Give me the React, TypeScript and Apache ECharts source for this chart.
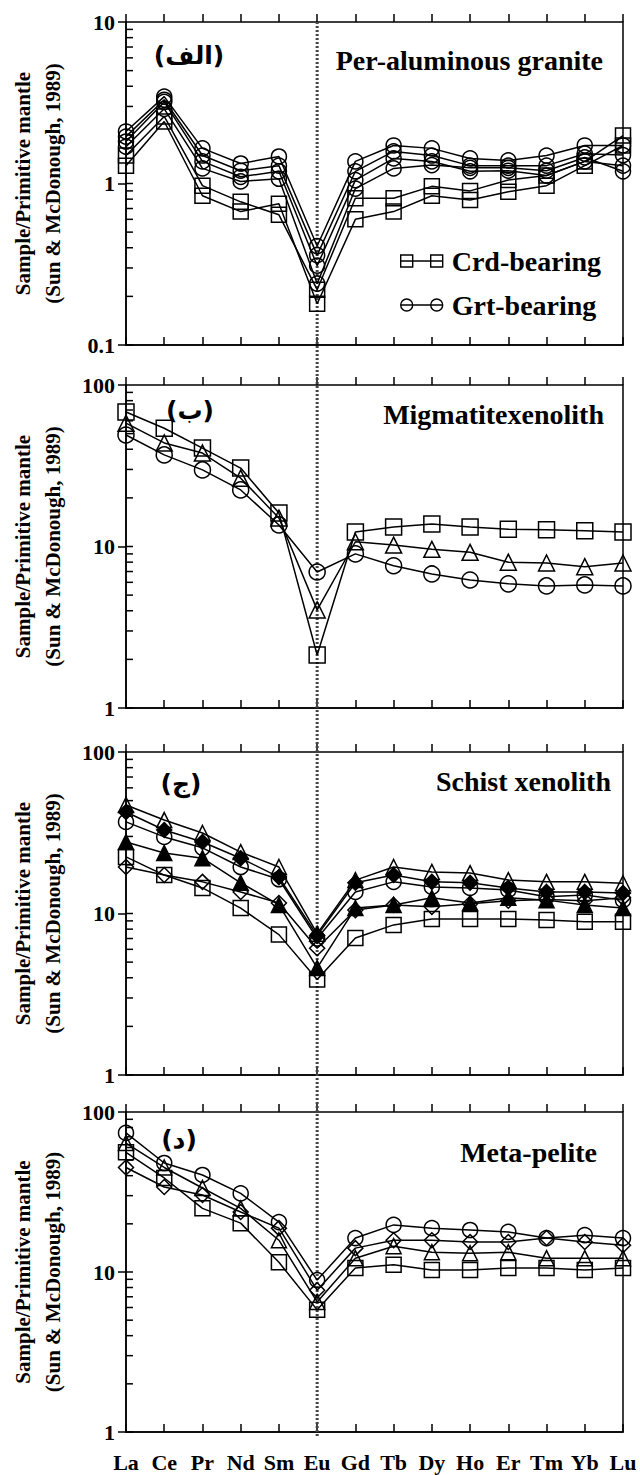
import React, { useEffect, useRef } from 'react';
import * as echarts from 'echarts';

const CATS = ['La', 'Ce', 'Pr', 'Nd', 'Sm', 'Eu', 'Gd', 'Tb', 'Dy', 'Ho', 'Er', 'Tm', 'Yb', 'Lu'];

// Panel 1 – Per-aluminous granite
const P1_CRD_A = [1.49, 2.6, 0.97, 0.77, 0.64, 0.22, 0.81, 0.81, 0.96, 0.9, 1.05, 1.12, 1.37, 1.98];
const P1_CRD_B = [1.29, 2.42, 0.84, 0.67, 0.75, 0.18, 0.6, 0.67, 0.84, 0.79, 0.89, 0.97, 1.29, 1.72];
const P1_GRT_A = [2.1, 3.45, 1.65, 1.33, 1.47, 0.41, 1.37, 1.72, 1.65, 1.43, 1.39, 1.49, 1.72, 1.72];
const P1_GRT_B = [1.95, 3.3, 1.49, 1.2, 1.29, 0.36, 1.19, 1.58, 1.49, 1.29, 1.29, 1.29, 1.53, 1.5];
const P1_GRT_C = [1.82, 3.2, 1.37, 1.1, 1.19, 0.31, 1.05, 1.43, 1.37, 1.19, 1.2, 1.12, 1.37, 1.29];
const P1_GRT_D = [1.69, 2.9, 1.24, 1.03, 1.07, 0.24, 0.93, 1.24, 1.3, 1.25, 1.25, 1.2, 1.45, 1.19];

// Panel 2 – Migmatite xenolith
const P2_SQUARE = [68, 54, 40.7, 30.6, 16.1, 2.13, 12.3, 13.2, 13.8, 13.2, 12.8, 12.7, 12.5, 12.3];
const P2_TRIANGLE = [58, 43.8, 37.9, 26.5, 15, 4.05, 10.7, 10.2, 9.6, 9.2, 8.0, 7.9, 7.5, 7.9];
const P2_CIRCLE = [49, 36.9, 29.8, 22.4, 13.6, 6.95, 9.0, 7.6, 6.76, 6.2, 5.87, 5.7, 5.78, 5.7];

// Panel 3 – Schist xenolith
const P3_TRIANGLE = [47, 37.9, 31.5, 24, 19.4, 7.5, 16.1, 19.4, 18.1, 17.8, 16.1, 15.7, 15.7, 15.4];
const P3_DIAMOND_F = [42.5, 32.9, 27.7, 22, 16.8, 7.3, 15.5, 17.3, 15.7, 15.5, 14.4, 13.6, 13.6, 13.4];
const P3_CIRCLE = [36.9, 29.8, 25.5, 19.4, 16.3, 7.0, 13.6, 15.7, 14.6, 14.4, 14.0, 12.7, 13.0, 12.1];
const P3_TRIANGLE_F = [27.7, 23.7, 22, 15.5, 11.3, 4.6, 10.8, 11.3, 12.5, 11.6, 12.5, 12.1, 11.3, 10.8];
const P3_DIAMOND = [19.4, 17.3, 15.7, 13.6, 11.6, 6.1, 10.5, 11.3, 11.0, 11.5, 12.0, 12.2, 12.0, 12.5];
const P3_SQUARE = [22.4, 17.3, 14.4, 10.8, 7.4, 3.9, 7.05, 8.5, 9.25, 9.25, 9.25, 9.1, 8.9, 8.9];

// Panel 4 – Meta-pelite
const P4_CIRCLE = [74, 48, 40.4, 31, 20.5, 8.9, 16.3, 19.7, 18.8, 18.3, 17.8, 16.3, 17, 16.3];
const P4_DIAMOND = [45, 34, 30.3, 23.7, 18.8, 7.7, 14.1, 15.8, 15.8, 15.4, 15.4, 16.3, 15.4, 14.7];
const P4_TRIANGLE = [64, 45, 33.5, 25, 15.8, 6.5, 12.2, 14.5, 13.3, 13.1, 13.3, 12.2, 12.2, 12.2];
const P4_SQUARE = [56, 38.7, 25, 20.2, 11.5, 5.8, 10.6, 11.1, 10.3, 10.3, 10.6, 10.6, 10.3, 10.6];

const PANEL_TITLES = ['Per-aluminous granite', 'Migmatitexenolith', 'Schist xenolith', 'Meta-pelite'];
const PANEL_TAGS = ['(الف)', '(ب)', '(ج)', '(د)'];
const Y_RANGES = [[0.1, 10], [1, 100], [1, 100], [1, 100]];
const Y_TITLE = 'Sample/Primitive mantle\n(Sun & McDonough, 1989)';

const SERIF = 'Liberation Serif';

const GRIDS = [
  { top: 22, height: 323 },
  { top: 385, height: 323 },
  { top: 752, height: 323 },
  { top: 1112, height: 320 },
];
const GRID_LEFT = 117;
const GRID_RIGHT = 17;

const TITLE_POS = [
  { x: 603, y: 60 },
  { x: 604, y: 414 },
  { x: 611, y: 781 },
  { x: 597, y: 1152 },
];
const TAG_POS = [
  { x: 189, y: 55 },
  { x: 190, y: 410 },
  { x: 181, y: 783 },
  { x: 179, y: 1139 },
];

function minorValues(min: number, max: number) {
  const out: number[] = [];
  for (let d = min; d < max * 0.999; d *= 10) {
    for (let k = 1; k <= 9; k++) out.push(+(d * k).toPrecision(3));
  }
  return out;
}

function lineSeries(name: string, data: number[], symbol: string, filled: boolean, p: number, size = 15) {
  return {
    type: 'line',
    name,
    data,
    xAxisIndex: p * 2,
    yAxisIndex: p,
    symbol,
    symbolSize: size,
    showAllSymbol: true,
    lineStyle: { color: '#000', width: 1.5 },
    itemStyle: { color: filled ? '#000' : 'rgba(255,255,255,0)', borderColor: '#000', borderWidth: 1.5 },
    emphasis: { disabled: true },
    z: 3,
  };
}

export default function App() {
  const ref = useRef<HTMLDivElement>(null);

  useEffect(() => {
    if (!ref.current) return;
    const chart = echarts.init(ref.current, undefined, { renderer: 'svg' });

    const grid: any[] = [];
    const xAxis: any[] = [];
    const yAxis: any[] = [];
    GRIDS.forEach((g, p) => {
      grid.push({
        left: GRID_LEFT,
        right: GRID_RIGHT,
        top: g.top,
        height: g.height,
        show: true,
        borderColor: '#000',
        borderWidth: 1.5,
        backgroundColor: 'transparent',
      });
      const last = p === GRIDS.length - 1;
      xAxis.push({
        type: 'category',
        gridIndex: p,
        data: CATS,
        boundaryGap: false,
        axisLine: { show: true, lineStyle: { color: '#000', width: 1.5 } },
        axisTick: { show: true, inside: true, length: 8, lineStyle: { color: '#000', width: 1.5 } },
        axisLabel: {
          show: last,
          interval: 0,
          margin: 19,
          color: '#000',
          fontFamily: SERIF,
          fontWeight: 'bold',
          fontSize: 22,
        },
        splitLine: { show: false },
      });
      xAxis.push({
        type: 'category',
        gridIndex: p,
        data: CATS,
        boundaryGap: false,
        axisLine: { show: false },
        axisTick: { show: true, inside: false, length: 8, lineStyle: { color: '#000', width: 1.5 } },
        axisLabel: { show: false },
        splitLine: { show: false },
      });
      const [mn, mx] = Y_RANGES[p];
      yAxis.push({
        type: 'log',
        logBase: 10,
        gridIndex: p,
        min: mn,
        max: mx,
        name: Y_TITLE,
        nameLocation: 'middle',
        nameRotate: 90,
        nameGap: 58,
        nameTextStyle: {
          color: '#000',
          fontFamily: SERIF,
          fontWeight: 'bold',
          fontSize: 21,
          lineHeight: 30,
        },
        axisLine: { show: true, lineStyle: { color: '#000', width: 1.5 } },
        axisTick: { show: true, inside: false, length: 8, lineStyle: { color: '#000', width: 1.5 } },
        axisLabel: {
          color: '#000',
          fontFamily: SERIF,
          fontWeight: 'bold',
          fontSize: 22,
          margin: 11,
        },
        splitLine: { show: false },
      });
    });

    const series: any[] = [
      lineSeries('Crd-bearing', P1_CRD_A, 'rect', false, 0),
      lineSeries('Crd-bearing', P1_CRD_B, 'rect', false, 0),
      lineSeries('Grt-bearing', P1_GRT_A, 'circle', false, 0),
      lineSeries('Grt-bearing', P1_GRT_B, 'circle', false, 0),
      lineSeries('Grt-bearing', P1_GRT_C, 'circle', false, 0),
      lineSeries('Grt-bearing', P1_GRT_D, 'circle', false, 0),

      lineSeries('p2-square', P2_SQUARE, 'rect', false, 1, 16),
      lineSeries('p2-triangle', P2_TRIANGLE, 'triangle', false, 1, 16),
      lineSeries('p2-circle', P2_CIRCLE, 'circle', false, 1, 16),

      lineSeries('p3-triangle', P3_TRIANGLE, 'triangle', false, 2),
      lineSeries('p3-diamond-f', P3_DIAMOND_F, 'diamond', true, 2),
      lineSeries('p3-circle', P3_CIRCLE, 'circle', false, 2),
      lineSeries('p3-triangle-f', P3_TRIANGLE_F, 'triangle', true, 2),
      lineSeries('p3-diamond', P3_DIAMOND, 'diamond', false, 2),
      lineSeries('p3-square', P3_SQUARE, 'rect', false, 2),

      lineSeries('p4-circle', P4_CIRCLE, 'circle', false, 3),
      lineSeries('p4-diamond', P4_DIAMOND, 'diamond', false, 3),
      lineSeries('p4-triangle', P4_TRIANGLE, 'triangle', false, 3),
      lineSeries('p4-square', P4_SQUARE, 'rect', false, 3),
    ];

    const textStyleBold = { fill: '#000', fontFamily: SERIF, fontWeight: 'bold' };
    const graphic: any[] = [];
    PANEL_TITLES.forEach((t, i) => {
      graphic.push({
        type: 'text',
        x: TITLE_POS[i].x,
        y: TITLE_POS[i].y,
        style: { ...textStyleBold, text: t, fontSize: 28, align: 'right', verticalAlign: 'middle' },
        z: 10,
      });
      graphic.push({
        type: 'text',
        x: TAG_POS[i].x,
        y: TAG_POS[i].y,
        style: {
          ...textStyleBold,
          text: PANEL_TAGS[i],
          fontFamily: 'DejaVu Sans',
          fontSize: 25,
          align: 'center',
          verticalAlign: 'middle',
        },
        z: 10,
      });
    });

    chart.setOption({
      animation: false,
      backgroundColor: '#fff',
      grid,
      xAxis,
      yAxis,
      series,
      legend: {
        show: true,
        orient: 'vertical',
        left: 395,
        top: 242,
        itemGap: 16,
        itemWidth: 42,
        itemHeight: 14,
        data: [
          {
            name: 'Crd-bearing',
            icon: 'path://M0,0 h12 v12 h-12 z M0,6 h42 M30,0 h12 v12 h-12 z',
          },
          {
            name: 'Grt-bearing',
            icon: 'path://M0,6 a6,6 0 1,0 12,0 a6,6 0 1,0 -12,0 M0,6 h42 M30,6 a6,6 0 1,0 12,0 a6,6 0 1,0 -12,0',
          },
        ],
        itemStyle: { color: 'rgba(255,255,255,0)', borderColor: '#000', borderWidth: 1.4 },
        lineStyle: { color: '#000' },
        textStyle: { color: '#000', fontFamily: SERIF, fontWeight: 'bold', fontSize: 28, padding: [0, 0, 0, 4] },
        selectedMode: false,
      },
      graphic,
    });

    // Eu reference line and the inner minor ticks of each log axis, positioned through the axis scales
    const xEu = chart.convertToPixel({ xAxisIndex: 0 }, 'Eu') as number;
    const yTop = GRIDS[0].top;
    const yBot = GRIDS[3].top + GRIDS[3].height + 6;
    const tickEls: any[] = [];
    Y_RANGES.forEach(([mn, mx], p) => {
      const x0 = chart.convertToPixel({ xAxisIndex: p * 2 }, 'La') as number;
      minorValues(mn, mx).forEach((v) => {
        const y = chart.convertToPixel({ yAxisIndex: p }, v) as number;
        tickEls.push({
          type: 'line',
          shape: { x1: x0, y1: y, x2: x0 + 7, y2: y },
          style: { stroke: '#000', lineWidth: 1.5 },
          silent: true,
          z: 5,
        });
      });
    });
    chart.setOption({
      graphic: [
        ...graphic,
        ...tickEls,
        {
          type: 'line',
          shape: { x1: xEu, y1: yTop, x2: xEu, y2: yBot },
          style: { stroke: '#444', lineWidth: 3, lineDash: [2, 2] },
          z: 1,
          silent: true,
        },
      ],
    });

    return () => chart.dispose();
  }, []);

  return (
    <div
      ref={ref}
      style={{ position: 'absolute', left: 0, top: 0, width: 640, height: 1475, background: '#fff' }}
    />
  );
}
